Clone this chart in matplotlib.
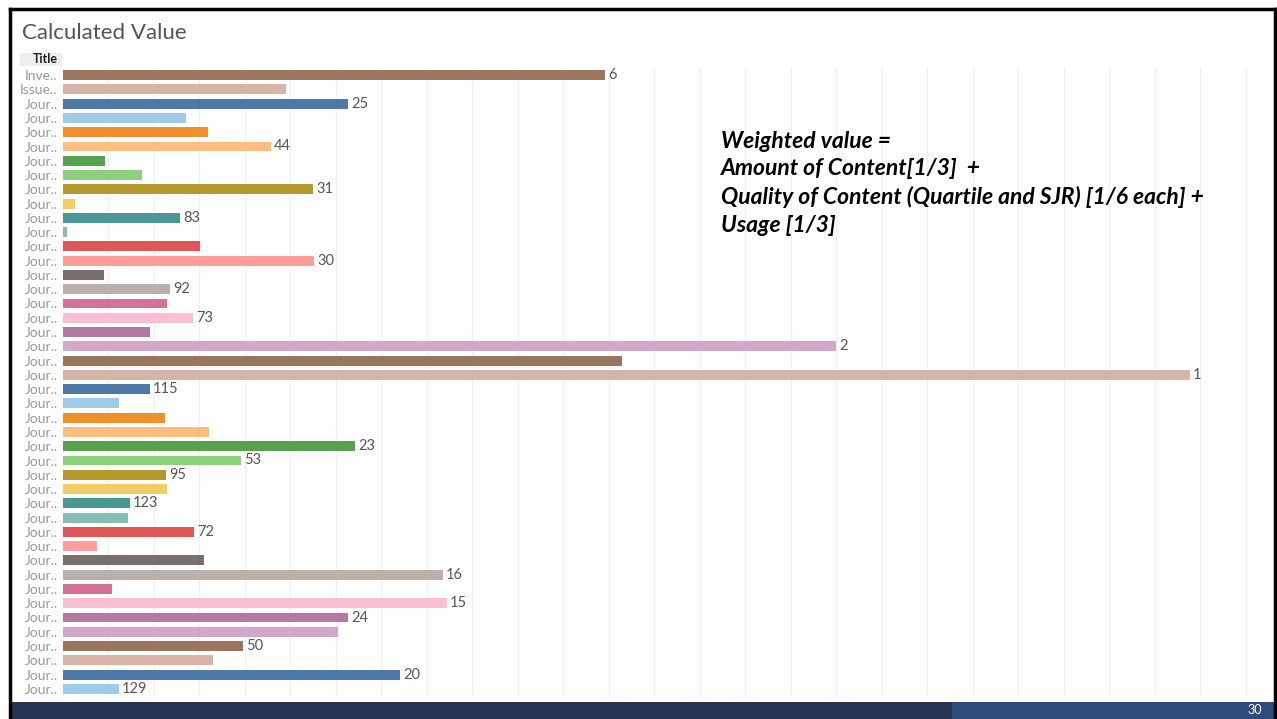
import matplotlib.pyplot as plt
from matplotlib.patches import Rectangle
from matplotlib.lines import Line2D

# bar lengths (calculated value, in axis units) and the rank shown at some bar ends
titles = ['Inve..', 'Issue..'] + ['Jour..'] * 42
values = [11.91, 4.90, 6.26, 2.70, 3.19, 4.57, 0.92, 1.74, 5.49, 0.26,
          2.57, 0.09, 3.01, 5.52, 0.90, 2.35, 2.29, 2.86, 1.91, 16.99,
          12.29, 24.77, 1.91, 1.23, 2.24, 3.21, 6.42, 3.91, 2.26, 2.29,
          1.47, 1.43, 2.88, 0.75, 3.10, 8.35, 1.08, 8.44, 6.26, 6.04,
          3.96, 3.30, 7.41, 1.23]
ranks = ['6', '', '25', '', '', '44', '', '', '31', '',
         '83', '', '', '30', '', '92', '', '73', '', '2',
         '', '1', '115', '', '', '', '23', '53', '95', '',
         '123', '', '72', '', '', '16', '', '15', '24', '',
         '50', '', '20', '129']

# tableau 20, starting at brown like the reference
palette = ['#9C755F', '#D7B5A6', '#4E79A7', '#A0CBE8', '#F28E2B', '#FFBE7D',
           '#59A14F', '#8CD17D', '#B6992D', '#F1CE63', '#499894', '#86BCB6',
           '#E15759', '#FF9D9A', '#79706E', '#BAB0AC', '#D37295', '#FABFD2',
           '#B07AA1', '#D4A6C8']

note = ("Weighted value =\n"
        "Amount of Content[1/3]  +\n"
        "Quality of Content (Quartile and SJR) [1/6 each] +\n"
        "Usage [1/3]")

plt.rcParams['font.family'] = ['Lato', 'DejaVu Sans']

W, H = 1277, 719
fig = plt.figure(figsize=(W / 100, H / 100), dpi=100)
fig.patch.set_facecolor('white')

ax = fig.add_axes([63 / W, 1 - 696 / H, (1250 - 63) / W, (696 - 68) / H])
n = len(values)
ys = list(range(n))
colors = [palette[i % len(palette)] for i in range(n)]
ax.barh(ys, values, height=0.7, color=colors, zorder=2)

for y, v, r in zip(ys, values, ranks):
    if r:
        ax.text(v + 0.07, y, r, va='center', ha='left', fontsize=10.5,
                color='#555555', zorder=3)

ax.set_ylim(n - 0.5, -0.5)
ax.set_xlim(0, 26.09)
ax.set_xticks(range(1, 27))
ax.xaxis.grid(True, color='#f0f0f0', linewidth=0.9, zorder=0)
ax.tick_params(axis='x', length=0, labelbottom=False)
ax.set_yticks(ys)
ax.set_yticklabels(titles, fontsize=10, color='#999999')
ax.tick_params(axis='y', length=0, pad=4)
for s in ax.spines.values():
    s.set_visible(False)

# title and column header
fig.text(22 / W, 1 - 33 / H, 'Calculated Value', fontsize=16, color='#555555',
         va='center', ha='left')
fig.patches.append(Rectangle((20 / W, 1 - 66 / H), 42 / W, 13 / H,
                             transform=fig.transFigure, facecolor='#eeeeee',
                             edgecolor='none'))
fig.text(45 / W, 1 - 59 / H, 'Title', fontsize=9, fontweight='bold',
         color='#222222', va='center', ha='center')

# formula note
fig.text(721 / W, 1 - 131 / H, note, fontsize=16.5, fontweight='bold', style='italic',
         color='black', va='top', ha='left', linespacing=1.38)

# slide frame and footer
fig.lines.append(Line2D([9.5 / W, 1274.5 / W], [1 - 8.5 / H, 1 - 8.5 / H],
                        transform=fig.transFigure, color='black', linewidth=2.5))
fig.lines.append(Line2D([9.5 / W, 9.5 / W], [1 - 8.5 / H, 0],
                        transform=fig.transFigure, color='black', linewidth=2.5))
fig.lines.append(Line2D([1274.5 / W, 1274.5 / W], [1 - 8.5 / H, 0],
                        transform=fig.transFigure, color='black', linewidth=2.5))
fig.patches.append(Rectangle((10 / W, 0), 942 / W, 17 / H, transform=fig.transFigure,
                             facecolor='#253450', edgecolor='none'))
fig.patches.append(Rectangle((952 / W, 0), 325 / W, 17 / H, transform=fig.transFigure,
                             facecolor='#2E4B7C', edgecolor='none'))
fig.text(1255 / W, 8.5 / H, '30', fontsize=9, color='white', va='center', ha='center')

fig.savefig('out.png', dpi=100)
